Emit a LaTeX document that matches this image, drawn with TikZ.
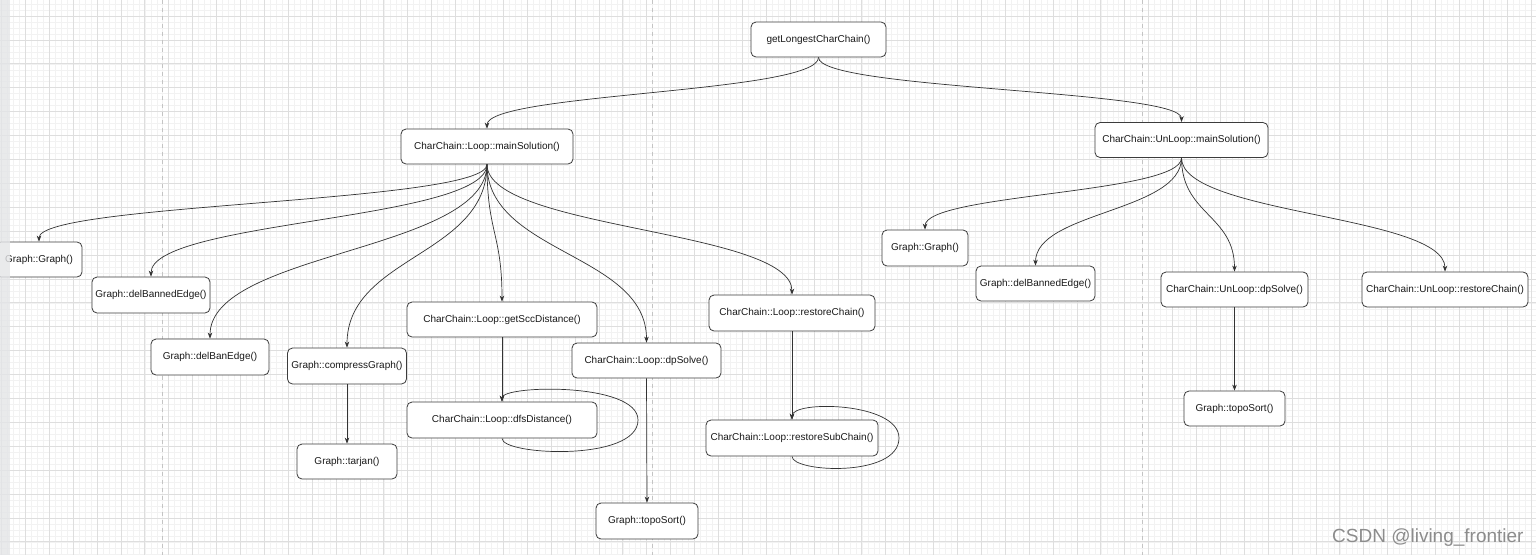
\documentclass[tikz,border=0pt]{standalone}
\usepackage{fontspec}
\setmainfont{Liberation Sans}
\usetikzlibrary{arrows.meta,calc}
\definecolor{gmajor}{HTML}{DEDEDE}
\definecolor{gminor}{HTML}{F2F2F2}
\definecolor{pagel}{HTML}{C4C4C4}
\definecolor{stripc}{HTML}{E4E5E7}
\definecolor{edgec}{HTML}{333333}
\definecolor{boxc}{HTML}{3C3C3C}
\definecolor{wm}{HTML}{8C8C8C}
\begin{document}
\begin{tikzpicture}[x=1pt,y=-1pt,
 fn/.style={draw=boxc,line width=0.8pt,rounded corners=5pt,fill=white,inner sep=0pt,font=\fontsize{10}{12}\selectfont,text=black!90},
 ar/.style={draw=edgec,line width=0.7pt,-{Stealth[length=6pt,width=4.5pt]}},
 sc/.style={to path={let \p1=(\tikztostart),\p2=(\tikztotarget) in .. controls (\x1,{\y1+#1*(\y2-\y1)}) and (\x2,{\y1+#1*(\y2-\y1)}) .. (\tikztotarget)}},
 sc/.default=0.5]
\useasboundingbox (0,0) rectangle (1536,555);
\fill[white] (0,0) rectangle (1536,555);
% grid
\foreach \i in {0,...,258} \draw[gminor,line width=0.5pt] ({1.4+\i*5.975},0) -- ++(0,555);
\foreach \i in {0,...,93} \draw[gminor,line width=0.5pt] (0,{-1.925+\i*5.975}) -- ++(1536,0);
\foreach \i in {0,...,64} \draw[gmajor,line width=0.7pt] ({1.4+\i*23.9},0) -- ++(0,555);
\foreach \i in {0,...,24} \draw[gmajor,line width=0.7pt] (0,{-7.9+\i*23.9}) -- ++(1536,0);
\foreach \x in {162,652,1142} \draw[pagel,line width=1pt,dash pattern=on 4pt off 4pt] (\x,0) -- (\x,555);

% nodes
\node[fn,minimum width=135pt,minimum height=35pt] (top) at (818.5,39.5) {getLongestCharChain()};
\node[fn,minimum width=172pt,minimum height=35pt] (LM) at (487,146.5) {CharChain::Loop::mainSolution()};
\node[fn,minimum width=173pt,minimum height=35pt] (UM) at (1181.5,140) {CharChain::UnLoop::mainSolution()};
\node[fn,minimum width=86pt,minimum height=35pt] (G1) at (39,259.5) {Graph::Graph()};
\node[fn,minimum width=118pt,minimum height=36pt] (DBE1) at (151,295) {Graph::delBannedEdge()};
\node[fn,minimum width=118pt,minimum height=36pt] (DBX) at (210,357) {Graph::delBanEdge()};
\node[fn,minimum width=119pt,minimum height=36pt] (CG) at (347,366) {Graph::compressGraph()};
\node[fn,minimum width=100pt,minimum height=35pt] (TJ) at (347,461.5) {Graph::tarjan()};
\node[fn,minimum width=190pt,minimum height=35pt] (GSD) at (502,319.5) {CharChain::Loop::getSccDistance()};
\node[fn,minimum width=190pt,minimum height=36pt] (DFS) at (502,420) {CharChain::Loop::dfsDistance()};
\node[fn,minimum width=149pt,minimum height=35pt] (DP) at (646.5,360.5) {CharChain::Loop::dpSolve()};
\node[fn,minimum width=102pt,minimum height=36pt] (TS1) at (647,521) {Graph::topoSort()};
\node[fn,minimum width=166pt,minimum height=36pt] (RC) at (792,313) {CharChain::Loop::restoreChain()};
\node[fn,minimum width=172pt,minimum height=36pt] (RSC) at (792,438) {CharChain::Loop::restoreSubChain()};
\node[fn,minimum width=86pt,minimum height=36pt] (G2) at (925,248) {Graph::Graph()};
\node[fn,minimum width=119pt,minimum height=35pt] (DBE2) at (1035.5,283.5) {Graph::delBannedEdge()};
\node[fn,minimum width=147pt,minimum height=35pt] (UDP) at (1234.5,289.5) {CharChain::UnLoop::dpSolve()};
\node[fn,minimum width=101pt,minimum height=35pt] (TS2) at (1234.5,408.5) {Graph::topoSort()};
\node[fn,minimum width=166pt,minimum height=35pt] (URC) at (1445,289.5) {CharChain::UnLoop::restoreChain()};

% edges
\draw[ar] (top.south) to[sc] (LM.north);
\draw[ar] (top.south) to[sc] (UM.north);
\draw[ar] (LM.south) to[sc] (G1.north);
\draw[ar] (LM.south) to[sc] (DBE1.north);
\draw[ar] (LM.south) to[sc] (DBX.north);
\draw[ar] (LM.south) to[sc] (CG.north);
\draw[ar] (LM.south) to[sc] (GSD.north);
\draw[ar] (LM.south) to[sc] (DP.north);
\draw[ar] (LM.south) to[sc] (RC.north);
\draw[ar] (CG.south) -- (TJ.north);
\draw[ar] (GSD.south) -- (DFS.north);
\draw[ar] (DP.south) -- (TS1.north);
\draw[ar] (RC.south) -- (RSC.north);
\draw[ar] (DFS.south) .. controls +(0,17) and (638,462) .. (638,420) .. controls (638,382) and (502,385) .. (DFS.north);
\draw[ar] (RSC.south) .. controls +(0,16) and (899,478) .. (899,438) .. controls (899,402) and (792,400) .. (RSC.north);
\draw[ar] (UM.south) to[sc] (G2.north);
\draw[ar] (UM.south) to[sc] (DBE2.north);
\draw[ar] (UM.south) to[sc] (UDP.north);
\draw[ar] (UM.south) to[sc] (URC.north);
\draw[ar] (UDP.south) -- (TS2.north);

% left strip and watermark
\fill[stripc,opacity=0.8] (0,0) rectangle (10,555);
\node[anchor=base west,inner sep=0pt,font=\fontsize{19}{22}\selectfont,text=wm] (wmk) at (1332,542) {CSDN @living\_frontier};
\end{tikzpicture}
\end{document}
